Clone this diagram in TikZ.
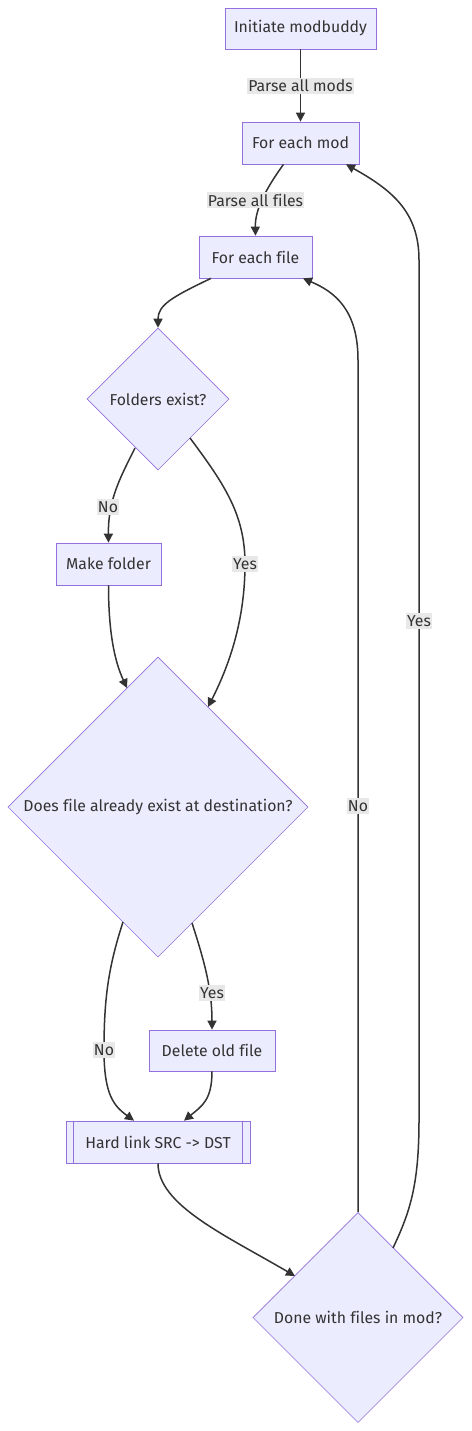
\documentclass[tikz,border=0pt]{standalone}
\usepackage{fontspec}
\setmainfont[Ligatures=NoCommon]{Fira Sans}
\usetikzlibrary{shapes.geometric,arrows.meta,calc}
\definecolor{nodefill}{HTML}{ECECFF}
\definecolor{nodeline}{HTML}{9370DB}
\definecolor{txt}{HTML}{333333}
\definecolor{edge}{HTML}{333333}
\definecolor{lblbg}{HTML}{E8E8E8}
\tikzset{
  box/.style={draw=nodeline, fill=nodefill, line width=0.7pt, text=txt, inner sep=0pt, font=\fontsize{15.8}{19}\selectfont},
  dia/.style={diamond, aspect=1, draw=nodeline, fill=nodefill, line width=0.55pt, text=txt, inner sep=0pt, font=\fontsize{15.8}{19}\selectfont},
  conn/.style={draw=edge, line width=1.5pt, -{Triangle[length=9pt,width=9pt]}},
  lbl/.style={fill=lblbg, text=txt, inner xsep=1.2pt, inner ysep=2pt, font=\fontsize{15.8}{19}\selectfont}
}
\begin{document}
\begin{tikzpicture}[x=1pt,y=-1pt]
\useasboundingbox (0,0) rectangle (471,1431);
% nodes
\node[box, minimum width=151pt, minimum height=41pt] (init) at (300.5,28.5) {Initiate modbuddy};
\node[box, minimum width=117pt, minimum height=42pt] (mod) at (300.5,143) {For each mod};
\node[box, minimum width=113pt, minimum height=42pt] (file) at (255.5,257) {For each file};
\node[dia, minimum width=142pt, minimum height=142pt] (folders) at (158,399) {\makebox[0pt]{Folders exist?}};
\node[box, minimum width=105pt, minimum height=42pt] (mkdir) at (108.5,564) {Make folder};
\node[dia, minimum width=300pt, minimum height=300pt] (does) at (158,807) {\makebox[0pt]{Does file already exist at destination?}};
\node[box, minimum width=126pt, minimum height=41pt] (del) at (212,1050.5) {Delete old file};
\node[box, minimum width=184pt, minimum height=42pt] (hard) at (158,1142) {Hard link SRC -> DST};
\draw[draw=nodeline, line width=0.7pt] ($(hard.north west)+(8,0)$) -- ($(hard.south west)+(8,0)$);
\draw[draw=nodeline, line width=0.7pt] ($(hard.north east)+(-8,0)$) -- ($(hard.south east)+(-8,0)$);
\node[dia, minimum width=210pt, minimum height=210pt] (done) at (358,1317.5) {\makebox[0pt]{Done with files in mod?}};
% connectors
\draw[conn] (init.south) -- (mod.north);
\draw[conn] ($(mod.south)+(-17,0)$) .. controls (265,190) and (255,210) .. (file.north);
\draw[conn] ($(file.south)+(-44.5,0)$) .. controls (172,297) and (158,305) .. (folders.north);
\draw[conn] ($(folders.center)+(-23,49)$) .. controls (120,478) and (108,500) .. (mkdir.north);
\draw[conn] ($(folders.center)+(32,39)$) .. controls (225,485) and (245,515) .. (245,564) .. controls (245,615) and (232,660) .. ($(does.center)+(50,-100)$);
\draw[conn] (mkdir.south) .. controls (108.5,630) and (114,660) .. ($(does.center)+(-31,-119)$);
\draw[conn] ($(does.center)+(-35,115)$) .. controls (108,968) and (104,1000) .. (104,1050) .. controls (104,1095) and (114,1106) .. ($(hard.north)+(-24,0)$);
\draw[conn] ($(does.center)+(34,116)$) .. controls (205,963) and (212,990) .. (del.north);
\draw[conn] (del.south) .. controls (212,1100) and (202,1106) .. ($(hard.north)+(26,0)$);
\draw[conn] (hard.south) .. controls (158,1205) and (225,1235) .. ($(done.center)+(-63,-41.5)$);
\draw[conn] (done.north) -- (358,360) .. controls (358,310) and (335,292) .. ($(file.south)+(47.5,0)$);
\draw[conn] ($(done.center)+(35,-69.5)$) .. controls (410,1212) and (419,1185) .. (419,1120) -- (419,260) .. controls (419,212) and (392,190) .. ($(mod.south)+(45.5,0)$);
% labels
\node[lbl] (l1) at (300.5,86) {Parse all mods};
\node[lbl] (l2) at (255.5,200) {Parse all files};
\node[lbl] (l3) at (108,507) {No};
\node[lbl] (l4) at (245,564) {Yes};
\node[lbl] (l5) at (212,993) {Yes};
\node[lbl] (l6) at (104,1050) {No};
\node[lbl] (l7) at (358,806) {No};
\node[lbl] (l8) at (419,621) {Yes};
\end{tikzpicture}
\end{document}
